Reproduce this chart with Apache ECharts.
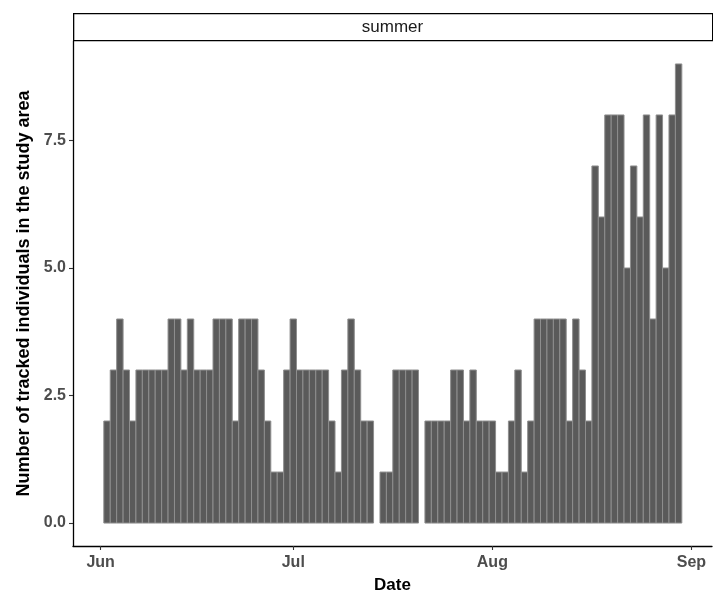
<!DOCTYPE html>
<html>
<head>
<meta charset="utf-8">
<script src="https://cdn.jsdelivr.net/npm/echarts@6/dist/echarts.min.js"></script>
<style>html,body{margin:0;padding:0;background:#fff}#c{width:713px;height:599px}</style>
</head>
<body>
<div id="c"></div>
<script>
const panelLabel = 'summer';
const dates = [
  '2021-06-02','2021-06-03','2021-06-04','2021-06-05','2021-06-06','2021-06-07','2021-06-08','2021-06-09','2021-06-10','2021-06-11',
  '2021-06-12','2021-06-13','2021-06-14','2021-06-15','2021-06-16','2021-06-17','2021-06-18','2021-06-19','2021-06-20','2021-06-21',
  '2021-06-22','2021-06-23','2021-06-24','2021-06-25','2021-06-26','2021-06-27','2021-06-28','2021-06-29','2021-06-30',
  '2021-07-01','2021-07-02','2021-07-03','2021-07-04','2021-07-05','2021-07-06','2021-07-07','2021-07-08','2021-07-09','2021-07-10',
  '2021-07-11','2021-07-12','2021-07-13','2021-07-15','2021-07-16','2021-07-17','2021-07-18','2021-07-19','2021-07-20',
  '2021-07-22','2021-07-23','2021-07-24','2021-07-25','2021-07-26','2021-07-27','2021-07-28','2021-07-29','2021-07-30','2021-07-31',
  '2021-08-01','2021-08-02','2021-08-03','2021-08-04','2021-08-05','2021-08-06','2021-08-07','2021-08-08','2021-08-09','2021-08-10',
  '2021-08-11','2021-08-12','2021-08-13','2021-08-14','2021-08-15','2021-08-16','2021-08-17','2021-08-18','2021-08-19','2021-08-20',
  '2021-08-21','2021-08-22','2021-08-23','2021-08-24','2021-08-25','2021-08-26','2021-08-27','2021-08-28','2021-08-29','2021-08-30'
];
const counts = [
  2,3,4,3,2,3,3,3,3,3,
  4,4,3,4,3,3,3,4,4,4,
  2,4,4,4,3,2,1,1,3,
  4,3,3,3,3,3,2,1,3,4,
  3,2,2,1,1,3,3,3,3,
  2,2,2,2,3,3,2,3,2,2,
  2,1,1,2,3,1,2,4,4,4,
  4,4,2,4,3,2,7,6,8,8,
  8,5,7,6,8,4,8,5,8,9
];
const xTickDates = ['2021-06-01','2021-07-01','2021-08-01','2021-09-01'];
const xTickLabels = ['Jun','Jul','Aug','Sep'];
const yTicks = [0, 2.5, 5, 7.5];

const origin = Date.parse('2021-06-01T00:00:00Z');
const dayOf = d => (Date.parse(d + 'T00:00:00Z') - origin) / 86400000;
const seriesData = dates.map((d, i) => [dayOf(d), counts[i]]);
const xTickVals = xTickDates.map(dayOf);

const FONT = 'Liberation Sans, Arial, sans-serif';
const chart = echarts.init(document.getElementById('c'), null, {renderer: 'canvas'});
const axisLabelStyle = {color: '#4d4d4d', fontSize: 16, fontWeight: 'bold', fontFamily: FONT};
chart.setOption({
  animation: false,
  backgroundColor: '#fff',
  grid: {left: 73, right: 1, top: 41, bottom: 51, containLabel: false},
  graphic: [
    {type: 'rect', left: 73, top: 13, shape: {width: 639, height: 27}, style: {fill: '#fff', stroke: '#000', lineWidth: 1.3}, z: 10},
    {type: 'text', x: 392.5, y: 27, style: {text: panelLabel, fill: '#1a1a1a', fontSize: 17, fontFamily: FONT, textAlign: 'center', textVerticalAlign: 'middle'}, z: 11}
  ],
  xAxis: {
    type: 'value', min: -4.3, max: 95.2,
    name: 'Date', nameLocation: 'middle', nameGap: 31,
    nameTextStyle: {color: '#000', fontSize: 17, fontWeight: 'bold', fontFamily: FONT},
    axisLine: {show: true, onZero: false, lineStyle: {color: '#000', width: 1.3}},
    axisTick: {show: true, length: 4, customValues: xTickVals, lineStyle: {color: '#333', width: 1.1}},
    axisLabel: Object.assign({customValues: xTickVals, margin: 9, formatter: v => xTickLabels[xTickVals.indexOf(v)] || ''}, axisLabelStyle),
    splitLine: {show: false}
  },
  yAxis: {
    type: 'value', min: -0.45, max: 9.45,
    name: 'Number of tracked individuals in the study area', nameLocation: 'middle', nameGap: 39,
    nameTextStyle: {color: '#000', fontSize: 18, fontWeight: 'bold', fontFamily: FONT},
    axisLine: {show: true, onZero: false, lineStyle: {color: '#000', width: 1.3}},
    axisTick: {show: true, length: 4, customValues: yTicks, lineStyle: {color: '#333', width: 1.1}},
    axisLabel: Object.assign({customValues: yTicks, margin: 7, formatter: v => v.toFixed(1)}, axisLabelStyle),
    splitLine: {show: false}
  },
  series: [{
    type: 'custom',
    data: seriesData,
    encode: {x: 0, y: 1},
    renderItem: function (params, api) {
      const x = api.value(0), y = api.value(1);
      const p0 = api.coord([x - 0.5, 0]);
      const p1 = api.coord([x + 0.5, y]);
      return {
        type: 'rect',
        shape: {x: p0[0], y: p1[1], width: p1[0] - p0[0], height: p0[1] - p1[1]},
        style: {fill: '#5a5a5a', stroke: '#8e8e8e', lineWidth: 1}
      };
    }
  }]
});
</script>
</body>
</html>
